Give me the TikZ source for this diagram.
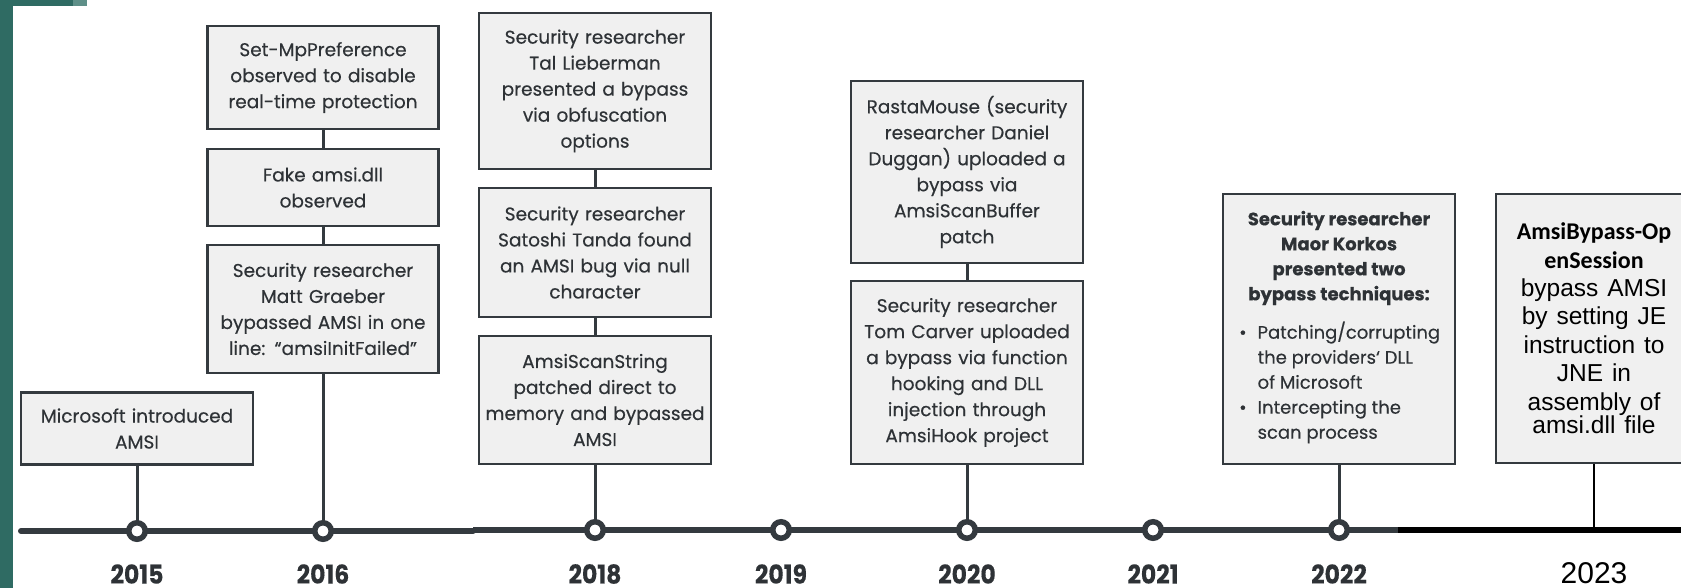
\documentclass[tikz,border=0pt]{standalone}
\usepackage{fontspec}
\setmainfont{Poppins}[FakeBold=0.35]
\newfontfamily\arialfont{Liberation Sans}
\newfontfamily\calfont{Carlito}
\definecolor{ink}{HTML}{2E3236}
\definecolor{rule}{HTML}{343A3F}
\definecolor{panel}{HTML}{F0F0F0}
\definecolor{tealdark}{HTML}{2F6B63}
\definecolor{teallight}{HTML}{5E8F88}
\newcommand\yeartext[1]{\scalebox{0.98}[1.08]{#1}}
\tikzset{
  evbox/.style={draw=rule, line width=2.8pt, fill=panel, text=ink, align=center,
    inner sep=0pt, font=\fontsize{18.5}{26}\selectfont},
  stem/.style={draw=rule, line width=3pt},
  yeardot/.style={circle, draw=rule, fill=white, line width=5.5pt,
    minimum size=16.5pt, inner sep=0pt},
  yearlabel/.style={text=ink, inner sep=0pt, font=\fontsize{24}{26}\selectfont\bfseries},
}
\begin{document}
\begin{tikzpicture}[x=1pt,y=-1pt]
\useasboundingbox (0,0) rectangle (1681,588);
\fill[white] (0,0) rectangle (1681,588);
% teal frame corner
\fill[tealdark] (0,0) rectangle (13,588);
\fill[tealdark] (0,0) rectangle (73,6);
\fill[teallight] (73,0) rectangle (87,6);

% timeline axis
\coordinate (axA) at (21,531);
\coordinate (axB) at (473,531);
\coordinate (axC) at (473,530);
\coordinate (axD) at (1398,530);
\coordinate (axE) at (1681,530);
\draw[rule, line width=6pt, line cap=round] (axA) -- (axB);
\draw[rule, line width=6pt] (axC) -- (axD);
\draw[black, line width=6.5pt] (axD) -- (axE);

% year positions on the axis
\coordinate (p2015) at (137,531);
\coordinate (p2016) at (323,531);
\coordinate (p2018) at (595,530);
\coordinate (p2019) at (781,530);
\coordinate (p2020) at (967,530);
\coordinate (p2021) at (1153,530);
\coordinate (p2022) at (1339,530);
\coordinate (p2023) at (1594,530);

% event boxes
\node[evbox, minimum width=232pt, minimum height=72pt, text width=226pt] (ms) at (137,428.5)
  {Microsoft introduced\\AMSI};

\node[evbox, minimum width=231pt, minimum height=103pt, text width=225pt] (setmp) at (323,77.5)
  {Set-MpPreference\\observed to disable\\real-time protection};
\node[evbox, minimum width=231pt, minimum height=77pt, text width=225pt] (fake) at (323,187.5)
  {Fake amsi.dll\\observed};
\node[evbox, minimum width=231pt, minimum height=128pt, text width=225pt] (matt) at (323,309)
  {Security researcher\\Matt Graeber\\bypassed AMSI in one\\line: “amsiInitFailed”};

\node[evbox, minimum width=232pt, minimum height=156pt, text width=226pt] (tal) at (595,91)
  {Security researcher\\Tal Lieberman\\presented a bypass\\via obfuscation\\options};
\node[evbox, minimum width=232pt, minimum height=129pt, text width=226pt] (sato) at (595,252.5)
  {Security researcher\\Satoshi Tanda found\\an AMSI bug via null\\character};
\node[evbox, minimum width=232pt, minimum height=128pt, text width=226pt] (scanstr) at (595,400)
  {AmsiScanString\\patched direct to\\memory and bypassed\\AMSI};

\node[evbox, minimum width=232pt, minimum height=182pt, text width=226pt] (rasta) at (967,172)
  {RastaMouse (security\\researcher Daniel\\Duggan) uploaded a\\bypass via\\AmsiScanBuffer\\patch};
\node[evbox, minimum width=232pt, minimum height=183pt, text width=226pt] (tom) at (967,372.5)
  {Security researcher\\Tom Carver uploaded\\a bypass via function\\hooking and DLL\\injection through\\AmsiHook project};

\node[evbox, minimum width=232pt, minimum height=270pt] (maor) at (1339,329)
  {};
\node[text=ink, align=center, inner sep=0pt, font=\fontsize{18}{25}\selectfont\bfseries]
  (maorhead) at (1339,258)
  {Security researcher\\Maor Korkos\\presented two\\bypass techniques:};
\node[text=ink, anchor=north west, inner sep=0pt, font=\fontsize{18}{25}\selectfont]
  (maorlist) at (1239,321)
  {\begin{tabular}{@{}l@{\hspace{11pt}}l@{}}
   \textbullet & Patching/corrupting\\
               & the providers‘ DLL\\
               & of Microsoft\\
   \textbullet & Intercepting the\\
               & scan process
   \end{tabular}};

\node[draw=rule, line width=1.6pt, fill=panel, text=black, align=center, inner sep=0pt,
  minimum width=196pt, minimum height=269pt, text width=192pt] (bypass23) at (1594,328.5)
  {\calfont\bfseries\fontsize{24}{28.4}\selectfont AmsiBypass-Op\\enSession\\
   \arialfont\mdseries\fontsize{24.5}{28.4}\selectfont\spaceskip=0.36em
   bypass AMSI\\by setting JE\\instruction to\\JNE in\\assembly of\\amsi.dll file};

% stems joining stacked boxes and boxes to the axis
\draw[stem] (setmp.south) -- (fake.north);
\draw[stem] (fake.south) -- (matt.north);
\draw[stem] (tal.south) -- (sato.north);
\draw[stem] (sato.south) -- (scanstr.north);
\draw[stem] (rasta.south) -- (tom.north);
\draw[stem] (ms.south) -- (p2015);
\draw[stem] (matt.south) -- (p2016);
\draw[stem] (scanstr.south) -- (p2018);
\draw[stem] (tom.south) -- (p2020);
\draw[stem] (maor.south) -- (p2022);
\draw[black, line width=1.5pt] (bypass23.south) -- (p2023);

% year markers
\foreach \yr in {2015,2016,2018,2019,2020,2021,2022}
  \node[yeardot] (dot\yr) at (p\yr) {};

% year labels
\node[yearlabel] (y2015) at (137,574) {\yeartext{2015}};
\node[yearlabel] (y2016) at (323,574) {\yeartext{2016}};
\node[yearlabel] (y2018) at (595,574) {\yeartext{2018}};
\node[yearlabel] (y2019) at (781,574) {\yeartext{2019}};
\node[yearlabel] (y2020) at (967,574) {\yeartext{2020}};
\node[yearlabel] (y2021) at (1153,574) {\yeartext{2021}};
\node[yearlabel] (y2022) at (1339,574) {\yeartext{2022}};
\node[text=black, inner sep=0pt, font=\arialfont\fontsize{30}{32}\selectfont] (y2023) at (1594,573) {2023};
\end{tikzpicture}
\end{document}
